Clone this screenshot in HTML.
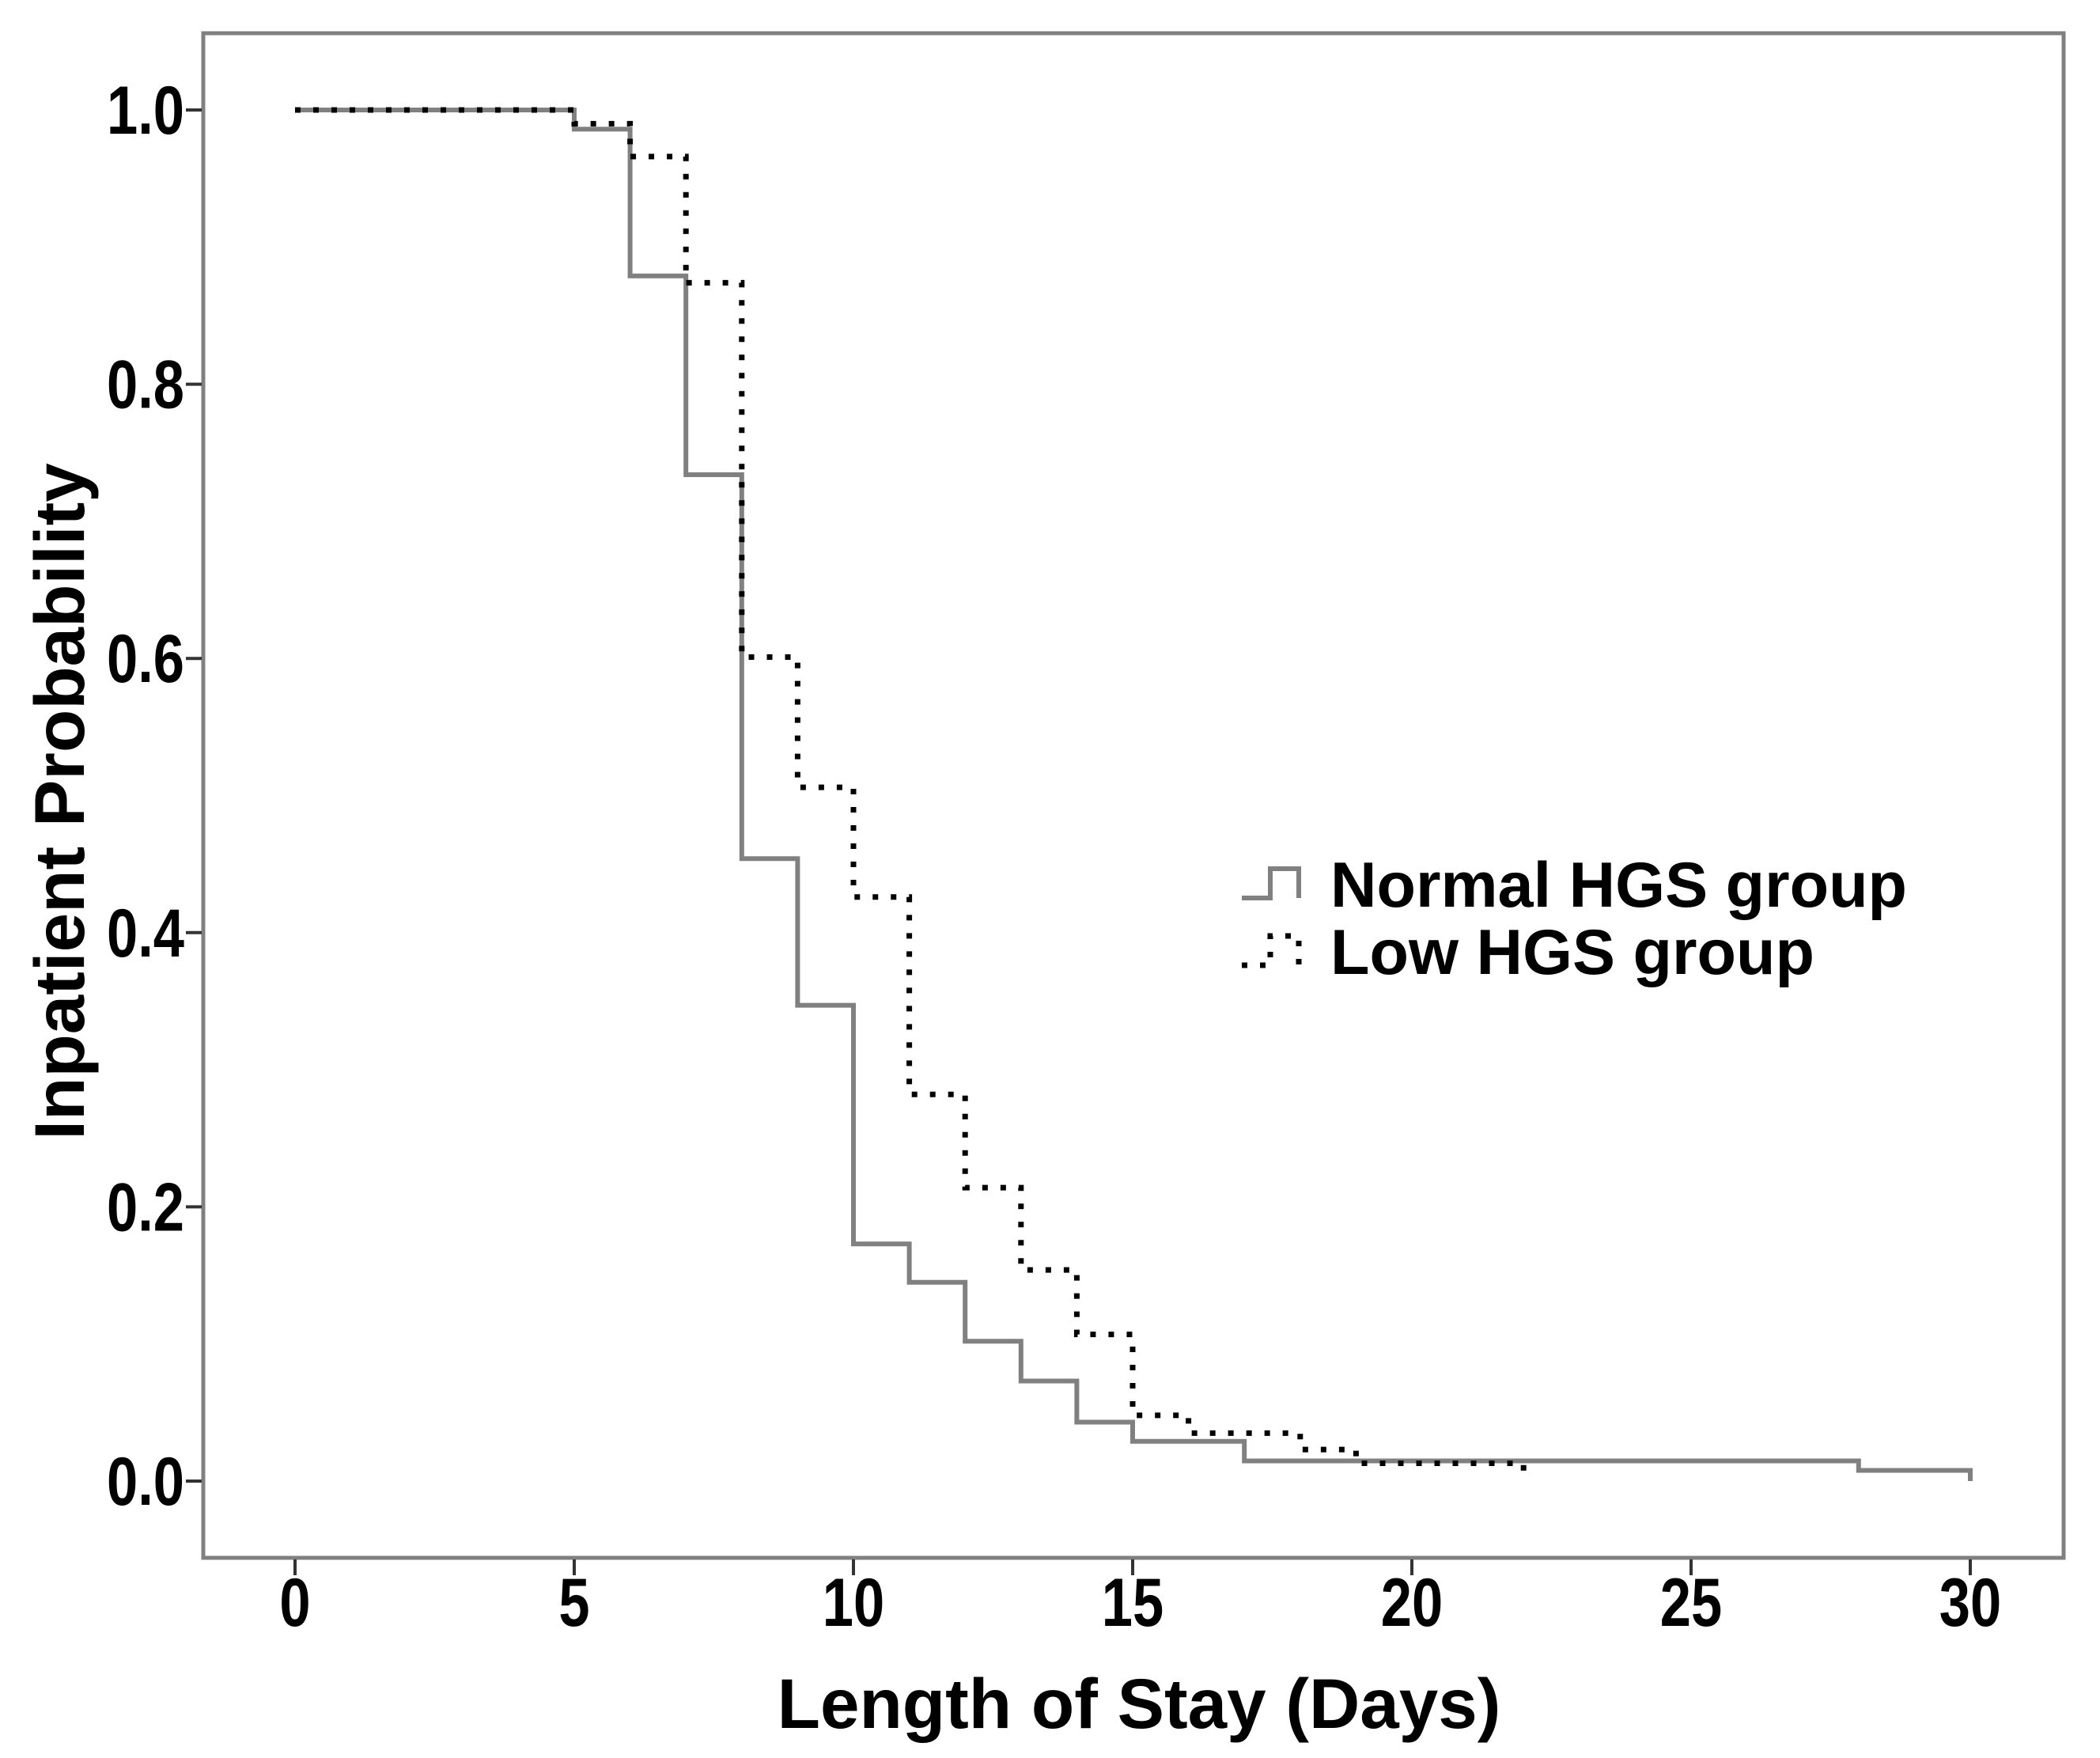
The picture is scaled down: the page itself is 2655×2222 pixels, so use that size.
<!DOCTYPE html>
<html><head><meta charset="utf-8"><style>
html,body{margin:0;padding:0;background:#fff;}
svg{display:block;font-family:"Liberation Sans",Arial,sans-serif;font-weight:bold;}
</style></head><body>
<svg id="chart" width="2655" height="2222" viewBox="0 0 2655 2222" xmlns="http://www.w3.org/2000/svg">
<rect x="0" y="0" width="2655" height="2222" fill="#fff"/>
<rect x="257" y="42" width="2352" height="1927" fill="none" stroke="#808080" stroke-width="5"/>
<g id="axes"></g>
<g id="series"></g>
<text x="1440" y="2184" font-size="89" text-anchor="middle" fill="#000">Length of Stay (Days)</text>
<text transform="translate(106,1013) rotate(-90)" font-size="89" text-anchor="middle" fill="#000">Inpatient Probability</text>
<g>
<path d="M1570,1135 H1606 V1098 H1642 V1135" fill="none" stroke="#808080" stroke-width="6"/>
<text x="1682" y="1146" font-size="81" fill="#000">Normal HGS group</text>
<path d="M1570,1220 H1606 V1183 H1642 V1220" fill="none" stroke="#000" stroke-width="7" stroke-dasharray="7 16"/>
<text x="1682" y="1231" font-size="81" fill="#000">Low HGS group</text>
</g>
</svg>
<script>
const xTicks=[0,5,10,15,20,25,30];
const yTicks=[0.0,0.2,0.4,0.6,0.8,1.0];
const yTickLabels=["0.0","0.2","0.4","0.6","0.8","1.0"];
const normalTimes=[0,5,6,7,8,9,10,11,12,13,14,15,17,28,30];
const normalSurv=[1.0,0.986,0.879,0.734,0.454,0.347,0.173,0.145,0.102,0.073,0.043,0.029,0.0147,0.0078,0.0];
const lowTimes=[0,5,6,7,8,9,10,11,12,13,14,15,16,18,19,22];
const lowSurv=[1.0,0.99,0.966,0.874,0.601,0.506,0.426,0.282,0.214,0.154,0.107,0.048,0.035,0.023,0.013,0.006];

const NS="http://www.w3.org/2000/svg";
const X=v=>373+v*(2491-373)/30;
const Y=v=>1872-v*(1872-139);
const axes=document.getElementById('axes');
const series=document.getElementById('series');
function mk(tag,attrs,parent){const e=document.createElementNS(NS,tag);for(const k in attrs)e.setAttribute(k,attrs[k]);parent.appendChild(e);return e;}
xTicks.forEach(t=>{
  const l=mk('line',{x1:X(t),x2:X(t),y1:1971,y2:1991,stroke:'#333','stroke-width':4},axes);
  
  
  const tx=mk('text',{transform:'translate('+X(t)+',2055) scale(0.82,1)','font-size':86,'text-anchor':'middle',fill:'#000'},axes);
  tx.textContent=String(t);
  
  
});
yTicks.forEach((t,i)=>{
  const l=mk('line',{x1:235,x2:255,y1:Y(t),y2:Y(t),stroke:'#333','stroke-width':4},axes);
  
  
  const tx=mk('text',{transform:'translate(233,'+(Y(t)+30)+') scale(0.82,1)','font-size':86,'text-anchor':'end',fill:'#000'},axes);
  tx.textContent=yTickLabels[i];
  
  
});
function stepPath(ts,ss){
  let d='M'+X(ts[0])+','+Y(ss[0]);
  for(let i=1;i<ts.length;i++){d+=' H'+X(ts[i])+' V'+Y(ss[i]);}
  return d;
}
const pn=mk('path',{d:stepPath(normalTimes,normalSurv),fill:'none',stroke:'#808080','stroke-width':6},series);


const pl=mk('path',{d:stepPath(lowTimes,lowSurv),fill:'none',stroke:'#000','stroke-width':7,'stroke-dasharray':'7 16'},series);


</script>
</body></html>
